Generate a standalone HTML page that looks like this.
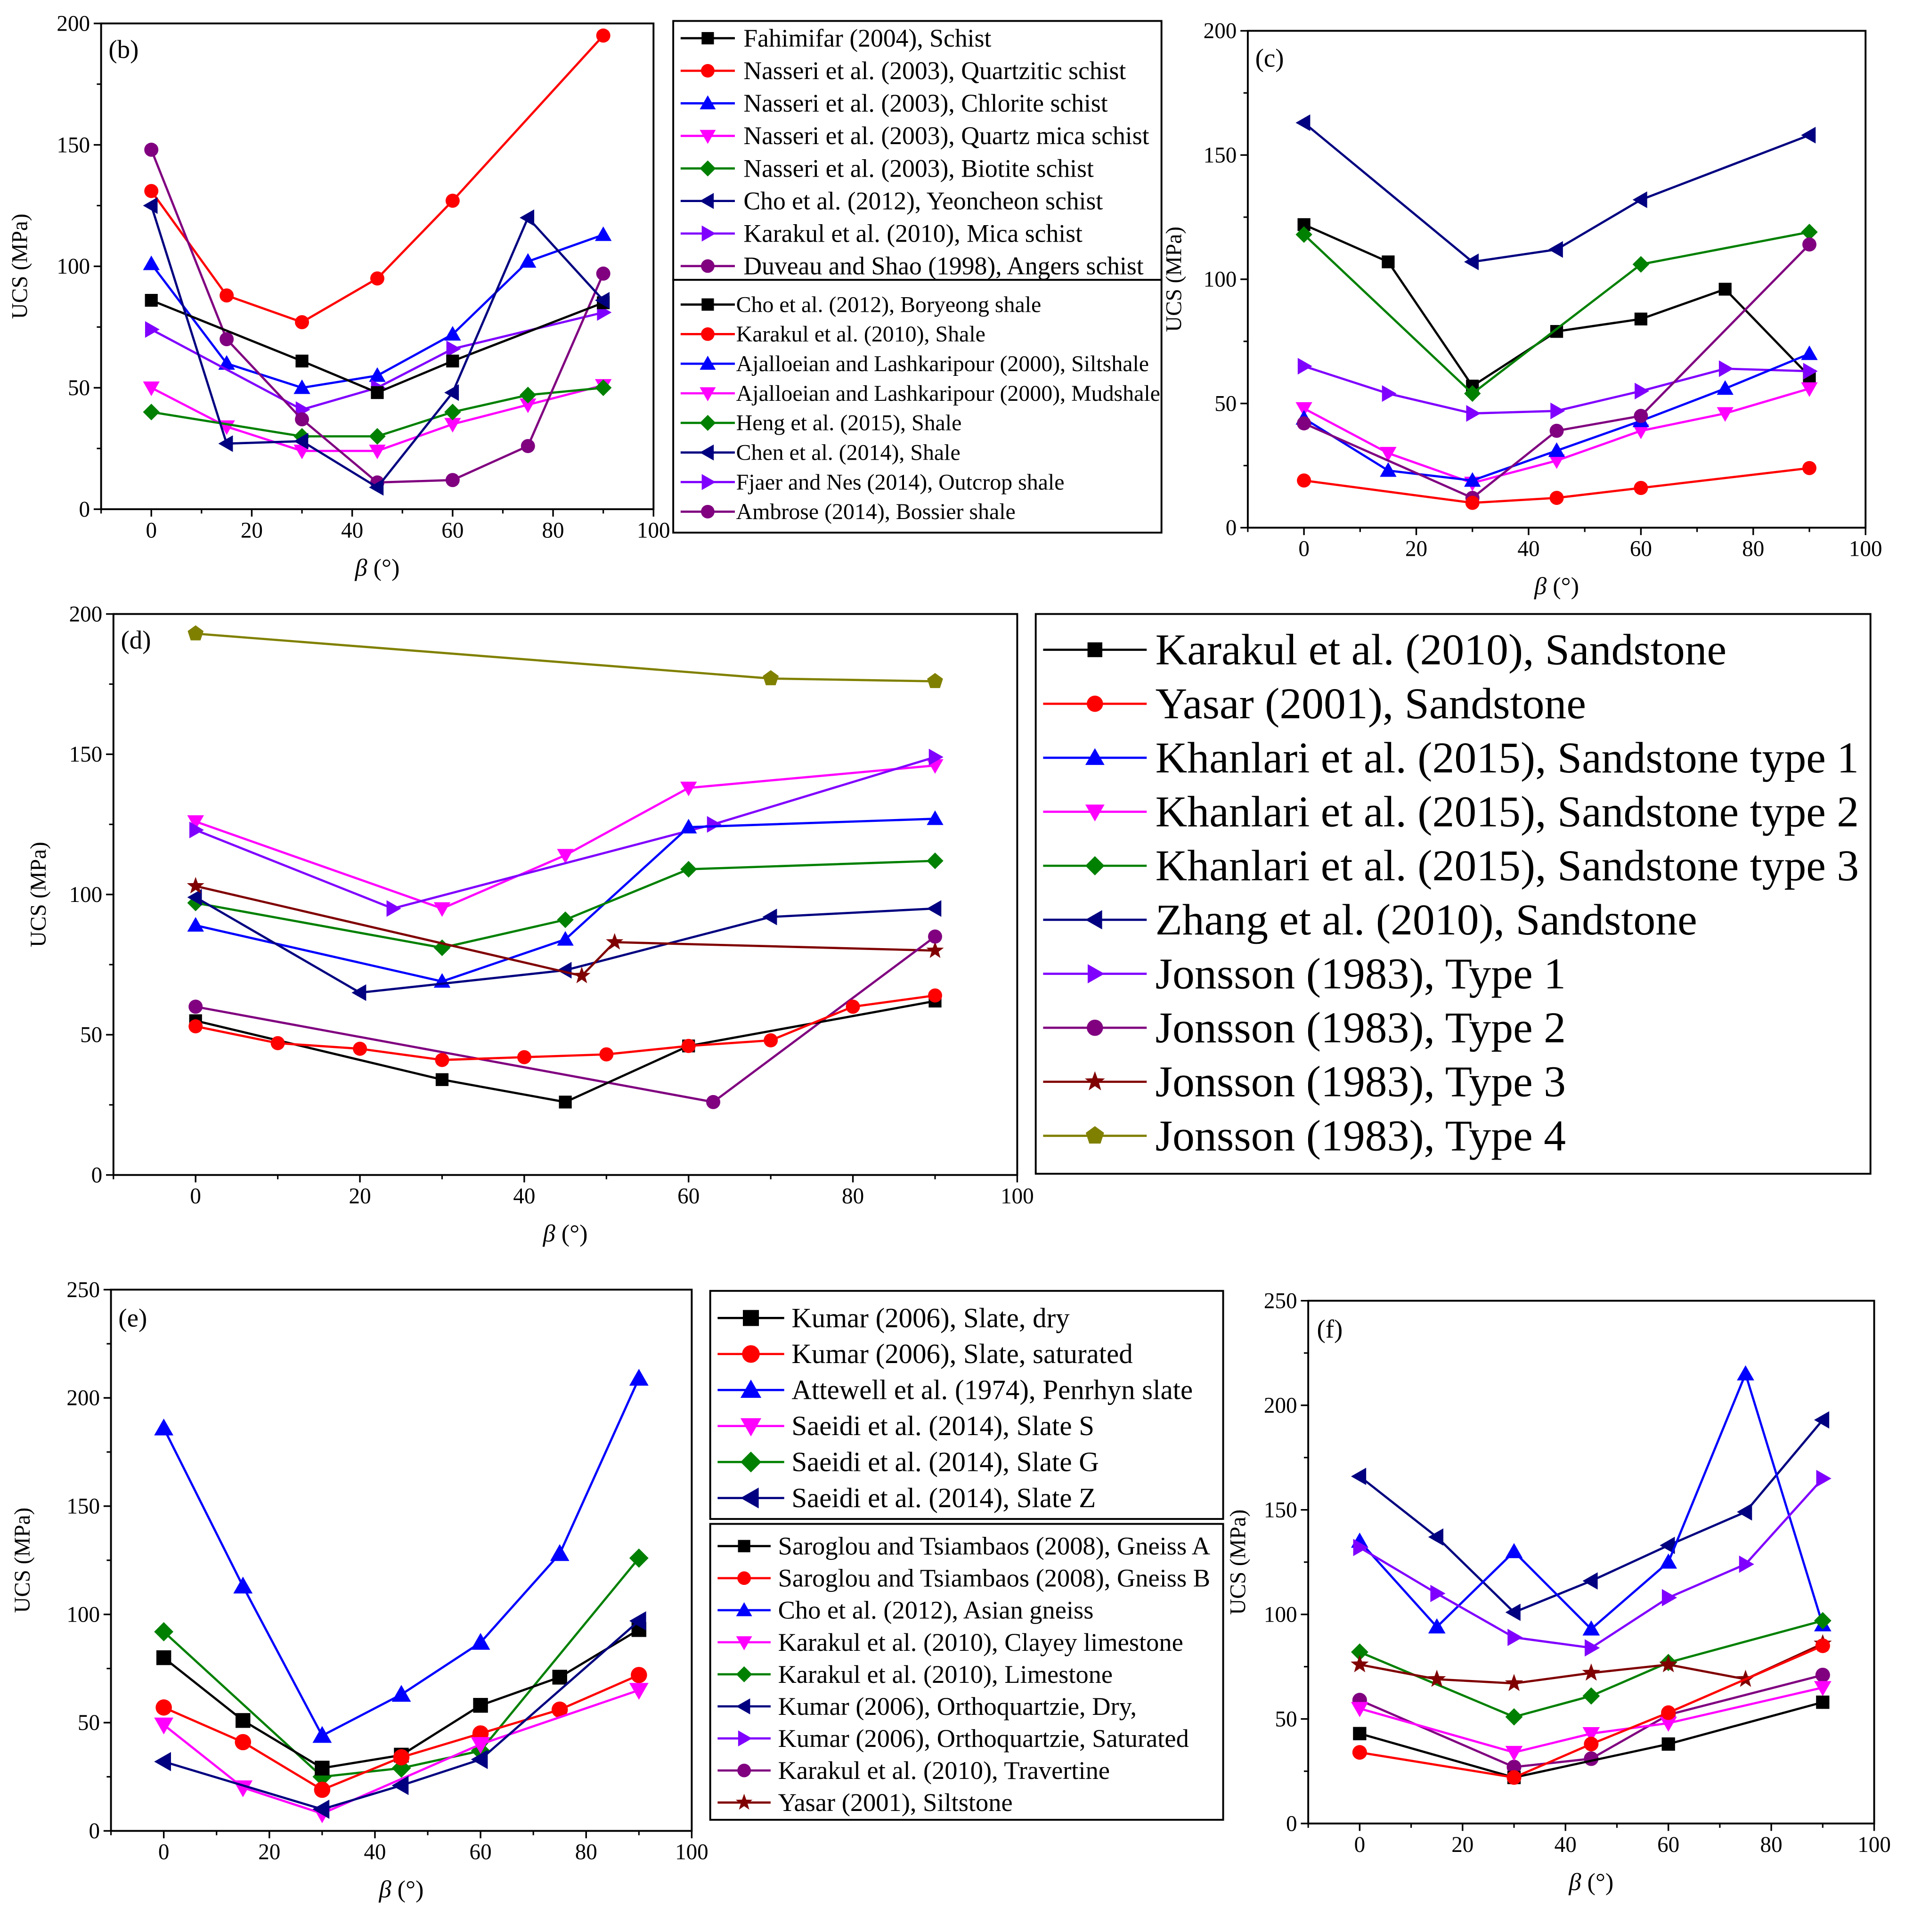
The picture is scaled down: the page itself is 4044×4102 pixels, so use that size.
<!DOCTYPE html>
<html><head><meta charset="utf-8"><style>
html,body{margin:0;padding:0;background:#fff;}
svg{display:block;font-family:"Liberation Serif","DejaVu Serif",serif;}
text{font-family:"Liberation Serif","DejaVu Serif",serif;}
</style></head><body>
<svg id="chart" xmlns="http://www.w3.org/2000/svg" width="4044" height="4102" viewBox="0 0 1545 1567" preserveAspectRatio="none"></svg>
<script>
// ---------- Panel (b) data ----------
const bFahX=[0,30,45,60,90], bFahY=[86,61,48,61,85];
const bQzX=[0,15,30,45,60,90], bQzY=[131,88,77,95,127,195];
const bChlX=[0,15,30,45,60,75,90], bChlY=[101,60,50,55,72,102,113];
const bQmX=[0,15,30,45,60,75,90], bQmY=[50,34,24,24,35,43,51];
const bBioX=[0,30,45,60,75,90], bBioY=[40,30,30,40,47,50];
const bChoX=[0,15,30,45,60,75,90], bChoY=[125,27,28,9,48,120,86];
const bMicX=[0,30,45,60,90], bMicY=[74,41,50,66,81];
const bDuvX=[0,15,30,45,60,75,90], bDuvY=[148,70,37,11,12,26,97];
// ---------- Panel (c) data ----------
const cNavX=[0,30,45,60,90], cNavY=[163,107,112,132,158];
const cBlkX=[0,15,30,45,60,75,90], cBlkY=[122,107,57,79,84,96,61];
const cGrnX=[0,30,60,90], cGrnY=[118,54,106,119];
const cPurX=[0,15,30,45,60,75,90], cPurY=[65,54,46,47,55,64,63];
const cMagX=[0,15,30,45,60,75,90], cMagY=[48,30,18,27,39,46,56];
const cBluX=[0,15,30,45,60,75,90], cBluY=[44,23,19,31,43,56,70];
const cDmgX=[0,30,45,60,90], cDmgY=[42,12,39,45,114];
const cRedX=[0,30,45,60,90], cRedY=[19,10,12,16,24];
// ---------- Panel (d) data ----------
const dKarX=[0,30,45,60,90], dKarY=[55,34,26,46,62];
const dYasX=[0,10,20,30,40,50,60,70,80,90], dYasY=[53,47,45,41,42,43,46,48,60,64];
const dK1X=[0,30,45,60,90], dK1Y=[89,69,84,124,127];
const dK2X=[0,30,45,60,90], dK2Y=[126,95,114,138,146];
const dK3X=[0,30,45,60,90], dK3Y=[97,81,91,109,112];
const dZhX=[0,20,45,70,90], dZhY=[99,65,73,92,95];
const dJ1X=[0,24,63,90], dJ1Y=[123,95,125,149];
const dJ2X=[0,63,90], dJ2Y=[60,26,85];
const dJ3X=[0,47,51,90], dJ3Y=[103,71,83,80];
const dJ4X=[0,70,90], dJ4Y=[193,177,176];
// ---------- Panel (e) data ----------
const eDryX=[0,15,30,45,60,75,90], eDryY=[80,51,29,35,58,71,93];
const eSatX=[0,15,30,45,60,75,90], eSatY=[57,41,19,34,45,56,72];
const eAttX=[0,15,30,45,60,75,90], eAttY=[186,113,44,63,87,128,209];
const eSX=[0,15,30,60,90], eSY=[49,20,8,40,65];
const eGX=[0,30,45,60,90], eGY=[92,25,29,37,126];
const eZX=[0,30,45,60,90], eZY=[32,10,21,33,97];
// ---------- Panel (f) data ----------
const fNavX=[0,15,30,45,60,75,90], fNavY=[166,137,101,116,133,149,193];
const fBluX=[0,15,30,45,60,75,90], fBluY=[135,94,130,93,125,215,95];
const fPurX=[0,15,30,45,60,75,90], fPurY=[132,110,89,84,108,124,165];
const fGrnX=[0,30,45,60,90], fGrnY=[82,51,61,77,97];
const fStrX=[0,15,30,45,60,75,90], fStrY=[76,69,67,72,76,69,86];
const fDmgX=[0,30,45,60,90], fDmgY=[59,27,31,52,71];
const fMagX=[0,30,45,60,90], fMagY=[55,34,43,48,65];
const fBlkX=[0,30,60,90], fBlkY=[43,22,38,58];
const fRedX=[0,30,45,60,90], fRedY=[34,22,38,53,85];
// ---------- Tick labels ----------
const xTicks=[0,20,40,60,80,100];
const yTicks200=[0,50,100,150,200];
const yTicks250=[0,50,100,150,200,250];
// ---------- Legend labels ----------
const legB1=["Fahimifar (2004), Schist","Nasseri et al. (2003), Quartzitic schist","Nasseri et al. (2003), Chlorite schist","Nasseri et al. (2003), Quartz mica schist","Nasseri et al. (2003), Biotite schist","Cho et al. (2012), Yeoncheon schist","Karakul et al. (2010), Mica schist","Duveau and Shao (1998), Angers schist"];
const legB2=["Cho et al. (2012), Boryeong shale","Karakul et al. (2010), Shale","Ajalloeian and Lashkaripour (2000), Siltshale","Ajalloeian and Lashkaripour (2000), Mudshale","Heng et al. (2015), Shale","Chen et al. (2014), Shale","Fjaer and Nes (2014), Outcrop shale","Ambrose (2014), Bossier shale"];
const legD=["Karakul et al. (2010), Sandstone","Yasar (2001), Sandstone","Khanlari et al. (2015), Sandstone type 1","Khanlari et al. (2015), Sandstone type 2","Khanlari et al. (2015), Sandstone type 3","Zhang et al. (2010), Sandstone","Jonsson (1983), Type 1","Jonsson (1983), Type 2","Jonsson (1983), Type 3","Jonsson (1983), Type 4"];
const legE1=["Kumar (2006), Slate, dry","Kumar (2006), Slate, saturated","Attewell et al. (1974), Penrhyn slate","Saeidi et al. (2014), Slate S","Saeidi et al. (2014), Slate G","Saeidi et al. (2014), Slate Z"];
const legE2=["Saroglou and Tsiambaos (2008), Gneiss A","Saroglou and Tsiambaos (2008), Gneiss B","Cho et al. (2012), Asian gneiss","Karakul et al. (2010), Clayey limestone","Karakul et al. (2010), Limestone","Kumar (2006), Orthoquartzie, Dry,","Kumar (2006), Orthoquartzie, Saturated","Karakul et al. (2010), Travertine","Yasar (2001), Siltstone"];

const S={black:["#000","sq"],red:["#f00","ci"],blue:["#00f","up"],mag:["#f0f","dn"],grn:["#008000","di"],navy:["#000080","lt"],pur:["#8000ff","rt"],dmg:["#800080","ci"],dred:["#800000","st"],olive:["#808000","pe"]};
const svg=document.getElementById('chart');
const NS="http://www.w3.org/2000/svg";
const FF='"Liberation Serif","DejaVu Serif",serif';
function mk(tag,attrs,parent){const e=document.createElementNS(NS,tag);for(const k in attrs)e.setAttribute(k,attrs[k]);if(tag==='text')e.setAttribute('font-family',FF);(parent||svg).appendChild(e);return e;}

function marker(g,x,y,shape,col,r){
  let e;
  if(shape==="sq") e=mk('rect',{x:x-r,y:y-r,width:2*r,height:2*r,fill:col},g);
  else if(shape==="ci") e=mk('circle',{cx:x,cy:y,r:r*1.1,fill:col},g);
  else{
    let p=[];const R=r*1.3;
    if(shape==="up") p=[[x,y-R],[x+R,y+R*0.75],[x-R,y+R*0.75]];
    if(shape==="dn") p=[[x,y+R],[x+R,y-R*0.75],[x-R,y-R*0.75]];
    if(shape==="lt") p=[[x-R,y],[x+R*0.75,y-R],[x+R*0.75,y+R]];
    if(shape==="rt") p=[[x+R,y],[x-R*0.75,y-R],[x-R*0.75,y+R]];
    if(shape==="di") p=[[x,y-R],[x+R,y],[x,y+R],[x-R,y]];
    if(shape==="st"){for(let i=0;i<10;i++){const a=-Math.PI/2+i*Math.PI/5,rr=i%2?R*0.45:R*1.1;p.push([x+rr*Math.cos(a),y+rr*Math.sin(a)]);}}
    if(shape==="pe"){for(let i=0;i<5;i++){const a=-Math.PI/2+i*2*Math.PI/5;p.push([x+R*Math.cos(a),y+R*Math.sin(a)]);}}
    e=mk('polygon',{points:p.map(q=>q.join(',')).join(' '),fill:col},g);
  }
  
  
}

function panel(P){
  const g=mk('g',{});
  
  
  const sx=v=>P.x0+(v-(-10))/110*(P.x1-P.x0);
  const sy=v=>P.y1-v/P.ymax*(P.y1-P.y0);
  const box=mk('rect',{x:P.x0,y:P.y0,width:P.x1-P.x0,height:P.y1-P.y0,fill:'none',stroke:'#000','stroke-width':1.5},g);
  
  
  xTicks.forEach(t=>{
    mk('line',{x1:sx(t),x2:sx(t),y1:P.y1,y2:P.y1+6,stroke:'#000','stroke-width':1.3},g);
    const tx=mk('text',{x:sx(t),y:P.y1+23,'font-size':18,'text-anchor':'middle'},g);tx.textContent=t;
    
    
  });
  for(let t=-10;t<100;t+=20){mk('line',{x1:sx(t),x2:sx(t),y1:P.y1,y2:P.y1+3.5,stroke:'#000','stroke-width':1.2},g);}
  P.yt.forEach(t=>{
    mk('line',{x1:P.x0-6,x2:P.x0,y1:sy(t),y2:sy(t),stroke:'#000','stroke-width':1.3},g);
    const ty=mk('text',{x:P.x0-9,y:sy(t)+6,'font-size':18,'text-anchor':'end'},g);ty.textContent=t;
    
    
  });
  for(let i=0;i<P.yt.length-1;i++){const t=(P.yt[i]+P.yt[i+1])/2;mk('line',{x1:P.x0-3.5,x2:P.x0,y1:sy(t),y2:sy(t),stroke:'#000','stroke-width':1.2},g);}
  const xt=mk('text',{x:(P.x0+P.x1)/2,y:P.y1+54,'font-size':20,'text-anchor':'middle'},g);
  xt.innerHTML='<tspan font-style="italic">β</tspan> (°)';
  
  
  const cy=(P.y0+P.y1)/2;
  const yt=mk('text',{x:P.ytx,y:cy,'font-size':18,'text-anchor':'middle',transform:`rotate(-90 ${P.ytx} ${cy})`},g);
  yt.textContent='UCS (MPa)';
  
  
  const lb=mk('text',{x:P.lx,y:P.ly,'font-size':21},g);lb.textContent=P.label;
  
  
  P.series.forEach(s=>{
    const [col,sh]=S[s[2]];
    const pl=mk('polyline',{points:s[0].map((x,i)=>sx(x)+','+sy(s[1][i])).join(' '),fill:'none',stroke:col,'stroke-width':1.8},g);
    
    
    s[0].forEach((x,i)=>marker(g,sx(x),sy(s[1][i]),sh,col,P.r));
  });
}

function legend(L){
  const g=mk('g',{});
  
  
  mk('rect',{x:L.x0,y:L.y0,width:L.x1-L.x0,height:L.y1-L.y0,fill:'#fff',stroke:'#000','stroke-width':1.5},g);
  L.labels.forEach((t,i)=>{
    const y=L.ry0+i*L.dy,[col,sh]=S[L.keys[i]];
    const e=mk('g',{},g);
    
    
    mk('line',{x1:L.lx0,x2:L.lx1,y1:y,y2:y,stroke:col,'stroke-width':1.8},e);
    marker(e,(L.lx0+L.lx1)/2,y,sh,col,L.r);
    const tx=mk('text',{x:L.tx,y:y+L.fs*0.33,'font-size':L.fs},e);tx.textContent=t;
  });
}

const k8=["black","red","blue","mag","grn","navy","pur","dmg"];
panel({id:'b',label:'(b)',lx:88,ly:47,x0:82,x1:530,y0:19,y1:413,ymax:200,yt:yTicks200,ytx:22,r:5.2,
 series:[[bQzX,bQzY,"red"],[bChlX,bChlY,"blue"],[bQmX,bQmY,"mag"],[bBioX,bBioY,"grn"],[bMicX,bMicY,"pur"],[bDuvX,bDuvY,"dmg"],[bFahX,bFahY,"black"],[bChoX,bChoY,"navy"]]});
legend({x0:546,x1:942,y0:17,y1:227,ry0:31,dy:26.4,lx0:552,lx1:596,tx:603,fs:20.5,r:5,labels:legB1,keys:k8});
legend({x0:546,x1:942,y0:227,y1:432,ry0:247,dy:24,lx0:552,lx1:596,tx:597,fs:18.3,r:5,labels:legB2,keys:k8});
panel({id:'c',label:'(c)',lx:1018,ly:54,x0:1012,x1:1513,y0:25,y1:428,ymax:200,yt:yTicks200,ytx:958,r:5.2,
 series:[[cNavX,cNavY,"navy"],[cBlkX,cBlkY,"black"],[cGrnX,cGrnY,"grn"],[cPurX,cPurY,"pur"],[cMagX,cMagY,"mag"],[cBluX,cBluY,"blue"],[cDmgX,cDmgY,"dmg"],[cRedX,cRedY,"red"]]});
panel({id:'d',label:'(d)',lx:98,ly:526,x0:92,x1:825,y0:498,y1:953,ymax:200,yt:yTicks200,ytx:37,r:5.2,
 series:[[dJ4X,dJ4Y,"olive"],[dK2X,dK2Y,"mag"],[dJ1X,dJ1Y,"pur"],[dK1X,dK1Y,"blue"],[dK3X,dK3Y,"grn"],[dZhX,dZhY,"navy"],[dJ3X,dJ3Y,"dred"],[dJ2X,dJ2Y,"dmg"],[dKarX,dKarY,"black"],[dYasX,dYasY,"red"]]});
legend({x0:840,x1:1517,y0:498,y1:952,ry0:527,dy:43.8,lx0:846,lx1:930,tx:937,fs:35.8,r:6,labels:legD,keys:["black","red","blue","mag","grn","navy","pur","dmg","dred","olive"]});
panel({id:'e',label:'(e)',lx:96,ly:1076,x0:90,x1:561,y0:1046,y1:1485,ymax:250,yt:yTicks250,ytx:24,r:6,
 series:[[eAttX,eAttY,"blue"],[eGX,eGY,"grn"],[eDryX,eDryY,"black"],[eSatX,eSatY,"red"],[eSX,eSY,"mag"],[eZX,eZY,"navy"]]});
legend({x0:576,x1:992,y0:1047,y1:1232,ry0:1069,dy:29.2,lx0:582,lx1:636,tx:642,fs:22.5,r:6.5,labels:legE1,keys:["black","red","blue","mag","grn","navy"]});
legend({x0:576,x1:992,y0:1236,y1:1476,ry0:1254,dy:26,lx0:582,lx1:625,tx:631,fs:20.8,r:5,labels:legE2,keys:["black","red","blue","mag","grn","navy","pur","dmg","dred"]});
panel({id:'f',label:'(f)',lx:1068,ly:1085,x0:1061,x1:1520,y0:1055,y1:1479,ymax:250,yt:yTicks250,ytx:1010,r:5.4,
 series:[[fNavX,fNavY,"navy"],[fBluX,fBluY,"blue"],[fPurX,fPurY,"pur"],[fGrnX,fGrnY,"grn"],[fStrX,fStrY,"dred"],[fDmgX,fDmgY,"dmg"],[fMagX,fMagY,"mag"],[fBlkX,fBlkY,"black"],[fRedX,fRedY,"red"]]});
</script>
</body></html>
